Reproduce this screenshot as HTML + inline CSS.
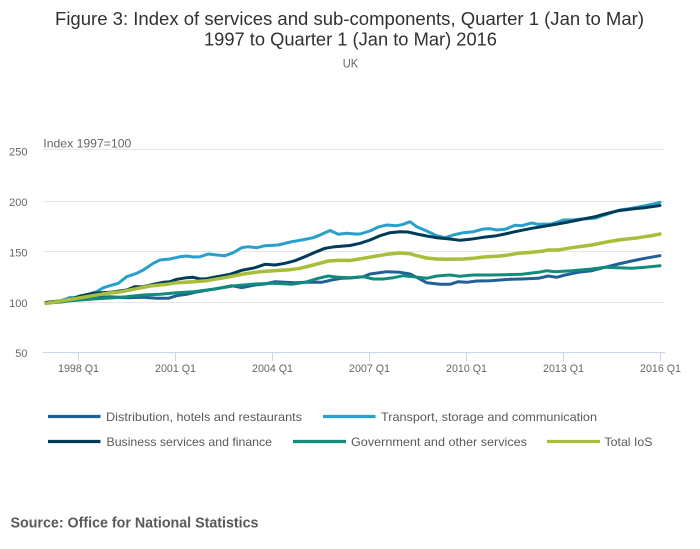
<!DOCTYPE html>
<html>
<head>
<meta charset="utf-8">
<style>
html,body{margin:0;padding:0;background:#fff;}
svg{display:block;}
text{font-family:"Liberation Sans",Arial,sans-serif;}
</style>
</head>
<body>
<svg width="700" height="549" viewBox="0 0 700 549" xmlns="http://www.w3.org/2000/svg">
<rect width="700" height="549" fill="#fff"/>
<!-- Title -->
<text x="349.5" y="25" font-size="18" fill="#323132" text-anchor="middle" textLength="589" lengthAdjust="spacingAndGlyphs">Figure 3: Index of services and sub-components, Quarter 1 (Jan to Mar)</text>
<text x="350.5" y="45.5" font-size="18" fill="#323132" text-anchor="middle" textLength="293" lengthAdjust="spacingAndGlyphs">1997 to Quarter 1 (Jan to Mar) 2016</text>
<text x="350.5" y="67.5" font-size="11.5" fill="#666" text-anchor="middle" textLength="15.5" lengthAdjust="spacingAndGlyphs">UK</text>

<!-- Axis title -->
<text x="43.3" y="147.5" font-size="12" fill="#666" textLength="88" lengthAdjust="spacingAndGlyphs">Index 1997=100</text>

<!-- Gridlines -->
<g stroke="#e6e6e6" stroke-width="1">
<line x1="43" y1="149.5" x2="665" y2="149.5"/>
<line x1="43" y1="201.5" x2="665" y2="201.5"/>
<line x1="43" y1="251.5" x2="665" y2="251.5"/>
<line x1="43" y1="302.5" x2="665" y2="302.5"/>
</g>
<!-- x axis -->
<line x1="43" y1="352.5" x2="665" y2="352.5" stroke="#ccd6eb" stroke-width="1"/>
<g stroke="#ccd6eb" stroke-width="1">
<line x1="78.5" y1="352" x2="78.5" y2="361"/>
<line x1="175.5" y1="352" x2="175.5" y2="361"/>
<line x1="272.5" y1="352" x2="272.5" y2="361"/>
<line x1="369.5" y1="352" x2="369.5" y2="361"/>
<line x1="466.5" y1="352" x2="466.5" y2="361"/>
<line x1="563.5" y1="352" x2="563.5" y2="361"/>
<line x1="660.5" y1="352" x2="660.5" y2="361"/>
</g>

<!-- y labels -->
<g font-size="11" fill="#666" text-anchor="end">
<text x="27.5" y="155.5">250</text>
<text x="27.5" y="206">200</text>
<text x="27.5" y="256.5">150</text>
<text x="27.5" y="307">100</text>
<text x="27.5" y="357">50</text>
</g>
<!-- x labels -->
<g font-size="11" fill="#666" text-anchor="middle">
<text x="78.5" y="372" textLength="41" lengthAdjust="spacingAndGlyphs">1998 Q1</text>
<text x="175.5" y="372" textLength="41" lengthAdjust="spacingAndGlyphs">2001 Q1</text>
<text x="272.5" y="372" textLength="41" lengthAdjust="spacingAndGlyphs">2004 Q1</text>
<text x="369.5" y="372" textLength="41" lengthAdjust="spacingAndGlyphs">2007 Q1</text>
<text x="466.5" y="372" textLength="41" lengthAdjust="spacingAndGlyphs">2010 Q1</text>
<text x="563.5" y="372" textLength="41" lengthAdjust="spacingAndGlyphs">2013 Q1</text>
<text x="660.5" y="372" textLength="41" lengthAdjust="spacingAndGlyphs">2016 Q1</text>
</g>

<!-- Series -->
<g fill="none" stroke-linejoin="round" stroke-linecap="round">
<!-- Distribution -->
<polyline stroke="#206095" stroke-width="3" points="46,303.3 63.3,301.7 80,299.3 93.3,297.7 110,296.7 126.7,297.7 143.3,297.3 156.7,298.3 168.3,298.3 176.7,295.7 186.7,294.3 195,292.3 208.3,290 221.7,287.7 231.7,285.7 241.7,287.7 255,285 265,284 275,281.7 285,282.3 295,282.7 305,282.3 321.7,282.3 331.7,280 341.7,278.3 350,278 363.3,276.7 370,274 386.7,271.7 400,272.3 410,274 416.7,277.3 426.7,282.7 440,284.3 450,284.3 458.3,281.7 466.7,282.3 476.7,281 490,280.7 500,280 510,279.3 521.7,279 538.3,278.3 548.3,276 556.7,277.3 565,275 578.3,272.3 591.7,270.7 605,267.3 618.3,264 631.7,261 645,258.3 660,255.7"/>
<!-- Transport -->
<polyline stroke="#27a0cc" stroke-width="3" points="46,302.5 60,301 70,297.5 76.7,298.3 88.3,294.3 96.7,291.7 103.3,287.7 110,285.7 118.3,283.3 126.7,276.7 136.7,273.3 143.3,270 153.3,263.3 160,260 170,259 180,256.7 186.7,256 193.3,257 200,256.7 208.3,254 216.7,255 225,255.7 233.3,252.7 241.7,247.7 248.3,246.7 256.7,247.7 265,245.7 278.3,245 291.7,241.7 301.7,240 313.3,237.7 321.7,234.3 330,230.5 338.3,234.3 346.7,233.3 355,234 360,234 370,231 378.3,227 386.7,225 396.7,225.7 403.3,224.3 410,221.7 416.7,226.7 426.7,231 436.7,235.7 445,237.7 453.3,235 463.3,232.7 473.3,231.7 483.3,229 490,228.7 496.7,230 505,229.3 515,225.3 521.7,225.7 531.7,223 538.3,224.3 551.7,224 563.3,220 571.7,220 581.7,219 595,218.3 601.7,216 611.7,212.7 620,210 631.7,208.3 645,205.7 653.3,204 660,202.3"/>
<!-- Business -->
<polyline stroke="#003c57" stroke-width="3" points="46,302.5 66.7,300 80,296 93.3,293.3 110,292.3 126.7,290 135,286.7 143.3,286.7 153.3,284.3 163.3,282.3 170,281.7 176.7,279.3 186.7,277.7 193.3,277.3 200,279 206.7,278.7 216.7,276.7 230,274.3 241.7,270.3 255,267.7 265,264.3 275,265 285,263.3 295,260.7 305,256.7 315,252.3 325,248.3 335,246.7 350,245.5 360,243.3 370,240 380,235.7 390,232.7 400,231.7 408,232 416.7,234 426.7,236 436.7,237.7 450,239 460,240.3 470,239.3 483.3,237.3 496.7,235.7 505,234 515,231.7 531.7,228.3 551.7,225 565,222.7 578.3,220 595,216.7 605,214 618.3,210.7 631.7,209 645,207.7 660,205.5"/>
<!-- Government -->
<polyline stroke="#118c7b" stroke-width="3" points="46,303.3 66.7,301 93.3,299 113.3,297.7 126.7,296.7 143.3,295 160,294.3 176.7,292.7 193.3,291.7 215,289 235,285.7 255,284 275,283.3 291.7,284.3 305,282.3 318.3,278.3 328.3,276 338.3,277.3 350,277.7 363.3,276.7 373.3,279 383.3,279 393.3,277.7 403.3,275.7 413.3,276.7 426.7,278.3 436.7,276 450,275 460,276.3 473.3,275 490,275 505,274.7 521.7,274.3 538.3,272.3 546.7,270.7 555,271.7 571.7,270.7 591.7,269 605,267.3 618.3,267.7 631.7,268.3 645,267.3 660,265.7"/>
<!-- Total -->
<polyline stroke="#a8bd3a" stroke-width="3.5" points="46,303.5 66.7,300 86.7,296.7 106.7,293.3 120,292 133.3,289.3 150,286 166.7,284.3 176.7,282.7 193.3,281.7 206.7,280.7 226.7,277.3 243.3,274 260,271.7 273.3,270.7 290,269.7 300,268.3 313.3,265 328.3,261 340,260.3 350,260.5 363.3,258.3 376.7,256 386.7,254.3 400,253 410,253.7 416.7,255.7 426.7,258 436.7,259 446.7,259.3 463.3,259 473.3,258.3 483.3,257 496.7,256.3 505,255.5 518.3,253.3 531.7,252.3 541.7,251.3 548.3,250 558.3,250 571.7,247.7 591.7,245 605,242.3 618.3,240 638.3,237.7 651.7,235.7 660,234"/>
</g>

<!-- Legend -->
<g stroke-width="3.3">
<line x1="48" y1="416.5" x2="100.5" y2="416.5" stroke="#206095"/>
<line x1="323" y1="416.5" x2="375.5" y2="416.5" stroke="#27a0cc"/>
<line x1="48" y1="441.5" x2="100.5" y2="441.5" stroke="#003c57"/>
<line x1="293" y1="441.5" x2="346" y2="441.5" stroke="#118c7b"/>
<line x1="547" y1="441.5" x2="600" y2="441.5" stroke="#a8bd3a"/>
</g>
<g font-size="12" fill="#595959">
<text x="106" y="421" textLength="196" lengthAdjust="spacingAndGlyphs">Distribution, hotels and restaurants</text>
<text x="381" y="421" textLength="216" lengthAdjust="spacingAndGlyphs">Transport, storage and communication</text>
<text x="106.5" y="446" textLength="165.5" lengthAdjust="spacingAndGlyphs">Business services and finance</text>
<text x="351" y="446" textLength="176" lengthAdjust="spacingAndGlyphs">Government and other services</text>
<text x="604.5" y="446" textLength="48" lengthAdjust="spacingAndGlyphs">Total IoS</text>
</g>

<!-- Source -->
<text x="10.5" y="527.3" font-size="14.5" font-weight="bold" fill="#595959" textLength="248" lengthAdjust="spacingAndGlyphs">Source: Office for National Statistics</text>
</svg>
</body>
</html>
